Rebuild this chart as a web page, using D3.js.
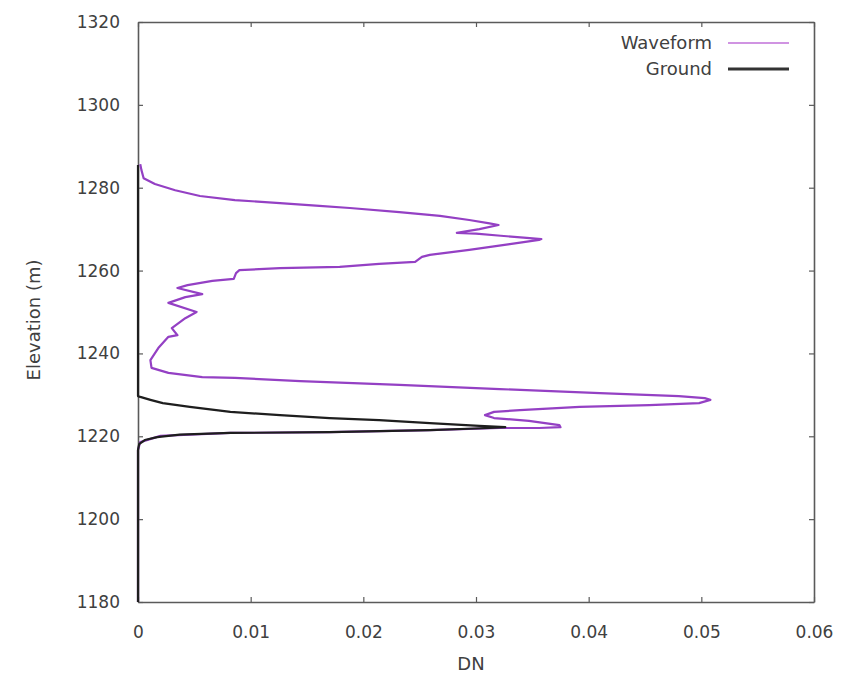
<!DOCTYPE html>
<html>
<head>
<meta charset="utf-8">
<script src="https://cdn.jsdelivr.net/npm/d3@7"></script>
<style>
  html, body { margin: 0; padding: 0; background: #fff; }
  svg { display: block; }
  text { font-family: "DejaVu Sans", "Liberation Sans", Arial, sans-serif; fill: #404040; }
</style>
</head>
<body>
<svg id="chart" width="849" height="680"></svg>
<script>
// Waveform return profile: DN (x) against elevation in metres (y)
const waveformElev = [1285.7, 1284.3, 1282.3, 1280.9, 1279.4, 1278.0, 1277.0, 1276.3, 1275.6, 1275.1,
  1274.1, 1273.2, 1272.2, 1271.4, 1271.0, 1270.0, 1269.1, 1268.9, 1268.4, 1267.9, 1267.6,
  1267.4, 1266.4, 1265.0, 1263.8, 1263.3, 1262.1, 1261.6, 1260.9, 1260.6, 1260.1, 1259.4,
  1258.0, 1257.5, 1256.5, 1255.8, 1254.3, 1253.6, 1252.2, 1250.0, 1248.5, 1246.1, 1244.4,
  1244.0, 1241.3, 1238.4, 1236.5, 1235.3, 1234.3, 1234.1, 1233.3, 1232.4, 1231.4, 1230.4,
  1229.7, 1229.2, 1228.8, 1228.0, 1227.5, 1227.1, 1226.3, 1225.9, 1225.1, 1224.4, 1223.7,
  1222.7, 1222.2, 1222.0, 1222.0, 1221.5, 1221.0, 1220.8, 1220.1, 1218.6, 1216.7, 1180.0];
const waveformDN = [0.0002, 0.0003, 0.0005, 0.0015, 0.0033, 0.0055, 0.0086, 0.0126, 0.0161, 0.0188,
  0.0232, 0.0268, 0.0294, 0.0312, 0.0320, 0.0303, 0.0283, 0.0300, 0.0322, 0.0345, 0.0358,
  0.0356, 0.0330, 0.0294, 0.0259, 0.0252, 0.0246, 0.0214, 0.0179, 0.0126, 0.0090, 0.0087,
  0.0085, 0.0066, 0.0044, 0.0035, 0.0057, 0.0042, 0.0027, 0.0052, 0.0042, 0.0030, 0.0035,
  0.0027, 0.0018, 0.0011, 0.0012, 0.0027, 0.0057, 0.0086, 0.0144, 0.0232, 0.0321, 0.0410,
  0.0480, 0.0503, 0.0508, 0.0498, 0.0454, 0.0392, 0.0339, 0.0316, 0.0308, 0.0316, 0.0347,
  0.0374, 0.0375, 0.0356, 0.0321, 0.0259, 0.0170, 0.0082, 0.0020, 0.0002, 0.0000, 0.0000];

// Ground return profile
const groundElev = [1285.5, 1229.7, 1229.5, 1228.8, 1228.0, 1227.1, 1225.9, 1225.1, 1224.4, 1223.9,
  1223.2, 1222.5, 1222.2, 1222.0, 1221.5, 1221.0, 1220.8, 1220.4, 1219.8, 1219.1, 1218.1,
  1216.7, 1180.0];
const groundDN = [0.0000, 0.0000, 0.0002, 0.0011, 0.0022, 0.0046, 0.0082, 0.0126, 0.0170, 0.0214,
  0.0259, 0.0303, 0.0326, 0.0312, 0.0259, 0.0170, 0.0082, 0.0037, 0.0017, 0.0006, 0.0001,
  0.0000, 0.0000];

const xTicks = [0, 0.01, 0.02, 0.03, 0.04, 0.05, 0.06];
const xTickLabels = ["0", "0.01", "0.02", "0.03", "0.04", "0.05", "0.06"];
const yTicks = [1180, 1200, 1220, 1240, 1260, 1280, 1300, 1320];

const seriesNames = ["Waveform", "Ground"];
const seriesColors = ["#9440c4", "#1e1e1e"];

const svg = d3.select("#chart");
const plotLeft = 138, plotRight = 814, plotTop = 22, plotBottom = 602;

const x = d3.scaleLinear().domain([0, 0.06]).range([plotLeft, plotRight]);
const y = d3.scaleLinear().domain([1180, 1320]).range([plotBottom, plotTop]);

const axisColor = "#5a5a5a";
const fontStack = "'DejaVu Sans', 'Liberation Sans', Arial, sans-serif";

// Frame with inward ticks on all four sides
const xAxisBottom = d3.axisBottom(x).tickValues(xTicks).tickSizeInner(-5).tickSizeOuter(0)
  .tickPadding(24).tickFormat((d, i) => xTickLabels[i]);
const gxb = svg.append("g").attr("transform", `translate(0,${plotBottom})`).call(xAxisBottom);
const xAxisTop = d3.axisTop(x).tickValues(xTicks).tickSizeInner(-5).tickSizeOuter(0).tickFormat("");
const gxt = svg.append("g").attr("transform", `translate(0,${plotTop})`).call(xAxisTop);
const yAxisLeft = d3.axisLeft(y).tickValues(yTicks).tickSizeInner(-5).tickSizeOuter(0)
  .tickPadding(18).tickFormat(d3.format("d"));
const gyl = svg.append("g").attr("transform", `translate(${plotLeft},0)`).call(yAxisLeft);
const yAxisRight = d3.axisRight(y).tickValues(yTicks).tickSizeInner(-5).tickSizeOuter(0).tickFormat("");
const gyr = svg.append("g").attr("transform", `translate(${plotRight},0)`).call(yAxisRight);

[gxb, gxt, gyl, gyr].forEach(g => {
  g.select(".domain").attr("stroke", axisColor).attr("stroke-width", 1.6);
  g.selectAll(".tick line").attr("stroke", axisColor).attr("stroke-width", 1.2);
  g.selectAll(".tick text").attr("font-size", 17).attr("fill", "#404040")
    .attr("font-family", fontStack);
});
gxb.selectAll(".tick text").attr("dy", "0.71em");

// Axis titles
svg.append("text").attr("x", (plotLeft + plotRight) / 2 - 5).attr("y", 670)
  .attr("text-anchor", "middle").attr("font-size", 18).text("DN");
svg.append("text")
  .attr("transform", `translate(40,${(plotTop + plotBottom) / 2 + 8}) rotate(-90)`)
  .attr("text-anchor", "middle").attr("font-size", 18).text("Elevation (m)");

// Profiles
const line = d3.line().x(d => x(d[0])).y(d => y(d[1]));
const waveform = waveformDN.map((v, i) => [v, waveformElev[i]]);
const ground = groundDN.map((v, i) => [v, groundElev[i]]);

svg.append("path").datum(waveform).attr("d", line)
  .attr("fill", "none").attr("stroke", seriesColors[0]).attr("stroke-width", 2.2)
  .attr("stroke-linejoin", "round");
svg.append("path").datum(ground).attr("d", line)
  .attr("fill", "none").attr("stroke", seriesColors[1]).attr("stroke-width", 2.2)
  .attr("stroke-linejoin", "round");

// Legend
const legendY = [43, 69];
seriesNames.forEach((name, i) => {
  svg.append("text").attr("x", 712).attr("y", legendY[i]).attr("dy", "0.36em")
    .attr("text-anchor", "end").attr("font-size", 18).text(name);
  svg.append("line").attr("x1", 728).attr("x2", 789)
    .attr("y1", legendY[i]).attr("y2", legendY[i])
    .attr("stroke", i === 0 ? "#c070d8" : "#333")
    .attr("stroke-width", i === 0 ? 1.6 : 3.2);
});
</script>
</body>
</html>
